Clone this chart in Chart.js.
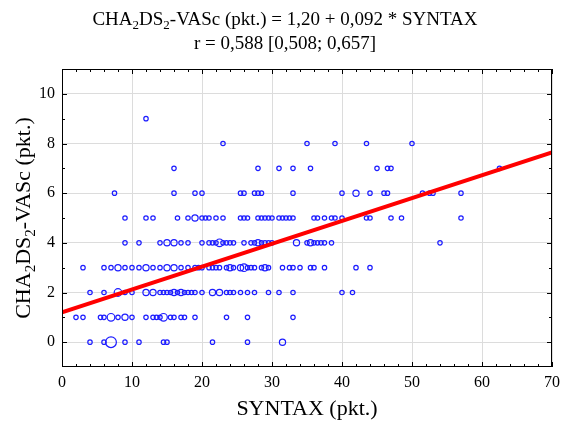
<!DOCTYPE html>
<html>
<head>
<meta charset="utf-8">
<script src="https://cdn.jsdelivr.net/npm/chart.js@4.4.0/dist/chart.umd.min.js"></script>
<style>
  html, body { margin: 0; background: #fff; }
  canvas { display: block; }
</style>
</head>
<body>
<canvas id="chart" width="566" height="421"></canvas>
<script>
// SYNTAX values (pkt.) for each CHA2DS2-VASc score, repeated values = tied patients
const score0 = [4, 6, 7, 7, 7, 7, 7, 7, 9, 11, 14.5, 15, 21.5, 26.5, 31.5, 31.5];
const score1 = [2, 3, 5.5, 6, 7, 7, 7, 8, 9, 9, 10, 12, 13, 13.5, 14, 14.5, 14.5, 14.5, 15.5, 16, 17, 17.5, 19, 23.5, 26.5, 33];
const score2 = [4, 6, 8, 8, 8, 9, 10, 12, 12, 13, 13, 14, 14.5, 15, 15.5, 16, 16, 16.5, 17, 17, 17.5, 18, 18.5, 19, 20, 21.5, 21.5, 22.5, 22.5, 23.5, 24, 24.5, 25.5, 26.5, 27.5, 29.5, 31, 33, 40, 41.5];
const score3 = [3, 6, 7, 8, 8, 9, 10, 11, 12, 12, 13, 14, 15, 15, 16, 16, 17, 18, 19, 19.5, 20, 21, 21.5, 22, 22.5, 23.5, 24, 24, 24.5, 25.5, 25.5, 26, 26, 26, 26.5, 27, 27.5, 28.5, 29, 29, 29.5, 31.5, 32.5, 33, 34, 35.5, 36, 37.5, 42, 44];
const score4 = [9, 11, 14, 15, 15, 16, 16, 17, 18, 20, 21, 21.5, 22, 22.5, 22.5, 22.5, 23, 23.5, 24, 24.5, 26, 27, 27.5, 28, 28, 28.5, 29, 29.5, 30, 33.5, 33.5, 35, 35.5, 35.5, 36, 36.5, 37, 37.5, 38.5, 54];
const score5 = [9, 12, 13, 16.5, 18, 19, 19, 20, 20.5, 21, 22, 23, 25.5, 26, 26.5, 28, 28.5, 29, 29.5, 30, 31, 31.5, 32, 32.5, 33, 36, 36.5, 37.5, 38.5, 39, 40, 43.5, 44, 47, 48.5, 57];
const score6 = [7.5, 16, 19, 20, 25.5, 26, 27.5, 28, 28.5, 33, 40, 42, 42, 44, 46, 46.5, 51.5, 52.5, 53, 57];
const score7 = [16, 28, 31, 33, 35.5, 45, 46.5, 47, 62.5];
const score8 = [23, 35, 39, 43.5, 50];
const score9 = [12];
const scoreGroups = [score0, score1, score2, score3, score4, score5, score6, score7, score8, score9];

// Regression: CHA2DS2-VASc = 1,20 + 0,092 * SYNTAX
const intercept = 1.20;
const slope = 0.092;
const xRange = [0, 70];

const xTicks = [0, 10, 20, 30, 40, 50, 60, 70];
const yTicks = [0, 2, 4, 6, 8, 10];

const titleLine1 = [['CHA', 0], ['2', 1], ['DS', 0], ['2', 1], ['-VASc (pkt.) = 1,20 + 0,092 * SYNTAX', 0]];
const titleLine2 = [['r = 0,588 [0,508; 0,657]', 0]];
const yTitle = [['CHA', 0], ['2', 1], ['DS', 0], ['2', 1], ['-VASc (pkt.)', 0]];
const xTitle = [['SYNTAX (pkt.)', 0]];

const FONT = '"Liberation Serif", "Times New Roman", serif';

// bubbles: aggregate tied observations, area grows with count
const bubbles = [];
scoreGroups.forEach((xs, score) => {
    const counts = {};
    xs.forEach(x => { counts[x] = (counts[x] || 0) + 1; });
    Object.keys(counts).forEach(k => {
        bubbles.push({ x: parseFloat(k), y: score, r: 2.2 * Math.sqrt(counts[k]) });
    });
});

const regLine = xRange.map(x => ({ x: x, y: intercept + slope * x }));

// draw text with subscripts, centred at (cx, cy)
function drawRich(ctx, parts, cx, cy, size) {
    const subSize = Math.round(size * 0.68);
    let total = 0;
    parts.forEach(p => {
        ctx.font = `${p[1] ? subSize : size}px ${FONT}`;
        total += ctx.measureText(p[0]).width;
    });
    let x = cx - total / 2;
    ctx.textAlign = 'left';
    ctx.textBaseline = 'alphabetic';
    const base = cy + size * 0.33;
    parts.forEach(p => {
        ctx.font = `${p[1] ? subSize : size}px ${FONT}`;
        ctx.fillText(p[0], x, p[1] ? base + size * 0.22 : base);
        x += ctx.measureText(p[0]).width;
    });
}

const framePlugin = {
    id: 'frame',
    afterDraw(chart) {
        const { ctx, chartArea: a, scales } = chart;
        const xs = scales.x, ys = scales.y;
        ctx.save();
        ctx.strokeStyle = '#000';
        ctx.lineWidth = 1;
        ctx.strokeRect(Math.round(a.left) + 0.5, Math.round(a.top) + 0.5,
            Math.round(a.right - a.left) - 1, Math.round(a.bottom - a.top) - 1);

        // inward ticks on all four sides
        ctx.beginPath();
        for (let v = 0; v <= 70; v += 2) {
            const len = v % 10 === 0 ? 5 : 3;
            const px = Math.round(xs.getPixelForValue(v)) + 0.5;
            ctx.moveTo(px, a.bottom); ctx.lineTo(px, a.bottom - len);
            ctx.moveTo(px, a.top); ctx.lineTo(px, a.top + len);
        }
        for (let v = 0; v <= 10; v += 1) {
            const len = v % 2 === 0 ? 5 : 3;
            const py = Math.round(ys.getPixelForValue(v)) + 0.5;
            ctx.moveTo(a.left, py); ctx.lineTo(a.left + len, py);
            ctx.moveTo(a.right, py); ctx.lineTo(a.right - len, py);
        }
        ctx.stroke();

        ctx.fillStyle = '#000';
        drawRich(ctx, titleLine1, 285, 19, 19);
        drawRich(ctx, titleLine2, 285, 43, 19);
        drawRich(ctx, xTitle, (a.left + a.right) / 2, 408, 22);

        ctx.translate(23, (a.top + a.bottom) / 2);
        ctx.rotate(-Math.PI / 2);
        drawRich(ctx, yTitle, 0, 0, 22);
        ctx.restore();
    }
};

new Chart(document.getElementById('chart'), {
    type: 'bubble',
    data: {
        datasets: [
            {
                type: 'line',
                data: regLine,
                borderColor: '#ff0000',
                borderWidth: 4,
                pointRadius: 0,
                fill: false,
                order: 0
            },
            {
                data: bubbles,
                borderColor: '#1c1cff',
                backgroundColor: 'rgba(0,0,0,0)',
                borderWidth: 1.2,
                order: 1
            }
        ]
    },
    options: {
        responsive: false,
        animation: false,
        layout: { padding: { top: 69, right: 11, left: 0, bottom: 0 } },
        plugins: {
            legend: { display: false },
            tooltip: { enabled: false },
            title: { display: false }
        },
        scales: {
            x: {
                type: 'linear',
                min: 0,
                max: 70,
                afterFit: s => { s.height = 54; },
                afterBuildTicks: s => { s.ticks = xTicks.map(v => ({ value: v })); },
                grid: { color: '#dcdcdc', drawTicks: false },
                border: { display: false },
                ticks: { color: '#000', padding: 6, font: { family: FONT, size: 16 } }
            },
            y: {
                type: 'linear',
                min: -1,
                max: 11,
                afterFit: s => { s.width = 62; },
                afterBuildTicks: s => { s.ticks = yTicks.map(v => ({ value: v })); },
                grid: { color: '#dcdcdc', drawTicks: false },
                border: { display: false },
                ticks: { color: '#000', padding: 7, font: { family: FONT, size: 16 } }
            }
        }
    },
    plugins: [framePlugin]
});
</script>
</body>
</html>
